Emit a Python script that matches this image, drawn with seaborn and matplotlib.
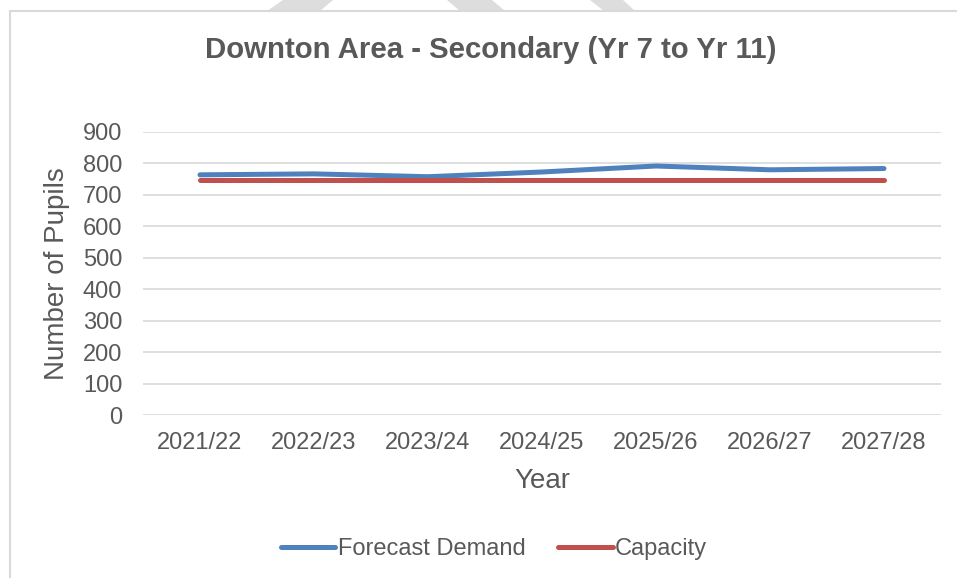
import pandas as pd
import matplotlib.pyplot as plt
import seaborn as sns
from matplotlib.patches import Polygon
from matplotlib.lines import Line2D

# Chart values
years = ["2021/22", "2022/23", "2023/24", "2024/25", "2025/26", "2026/27", "2027/28"]
forecast_demand = [763, 766, 757, 772, 791, 779, 783]
capacity = [745, 745, 745, 745, 745, 745, 745]
y_ticks = [0, 100, 200, 300, 400, 500, 600, 700, 800, 900]

series_names = ["Forecast Demand", "Capacity"]
series_colors = ["#4F81BD", "#C0504D"]
text_grey = "#595959"
grid_grey = "#D9D9D9"

W, H = 957, 578


def build_df():
    df = pd.DataFrame({"Year": years, "Forecast Demand": forecast_demand, "Capacity": capacity})
    df = df.melt(id_vars="Year", var_name="Series", value_name="Pupils")
    return df


df = build_df()

sns.set_theme(style="white")
plt.rcParams["font.family"] = ["Liberation Sans", "DejaVu Sans"]

fig = plt.figure(figsize=(W / 100, H / 100), dpi=100)
ax = fig.add_axes([143 / W, 1 - 415 / H, (941 - 143) / W, (415 - 131.7) / H])

# Background watermark fragments above the chart frame
for pts in [
    [(283, 0), (333, 0), (320, 11), (267, 11)],
    [(447, 0), (492, 0), (505, 11), (460, 11)],
    [(590, 0), (623, 0), (635, 11), (604, 11)],
]:
    fig.patches.append(Polygon([(x / W, 1 - y / H) for x, y in pts], closed=True,
                               transform=fig.transFigure, facecolor="#DDDDDD",
                               edgecolor="none", zorder=0))

# Chart frame (left and top edges visible)
fig.add_artist(Line2D([10 / W, 10 / W], [0, 1 - 11 / H], transform=fig.transFigure,
                      color=grid_grey, lw=1.5))
fig.add_artist(Line2D([10 / W, 1], [1 - 11 / H, 1 - 11 / H], transform=fig.transFigure,
                      color=grid_grey, lw=1.5))

sns.lineplot(data=df, x="Year", y="Pupils", hue="Series", hue_order=series_names,
             palette=series_colors, linewidth=3.6, sort=False, ax=ax, legend=False,
             solid_capstyle="round", zorder=3)

ax.set_xlim(-0.5, len(years) - 0.5)
ax.set_ylim(0, 900)
ax.set_yticks(y_ticks)
ax.set_yticklabels([str(v) for v in y_ticks])
ax.yaxis.grid(True, color=grid_grey, linewidth=1.2)
ax.xaxis.grid(False)
for s in ax.spines.values():
    s.set_visible(False)
ax.tick_params(axis="y", length=0, pad=15, labelsize=17, labelcolor=text_grey)
ax.tick_params(axis="x", length=0, pad=12, labelsize=17, labelcolor=text_grey)

ax.set_xlabel("Year", fontsize=20, color=text_grey)
ax.set_ylabel("Number of Pupils", fontsize=20, color=text_grey)
ax.xaxis.set_label_coords(0.5, -0.188)
ax.yaxis.set_label_coords(-0.0915, 0.5)

fig.text(491 / W, 1 - 50 / H, "Downton Area - Secondary (Yr 7 to Yr 11)",
         ha="center", va="center", fontsize=21.2, fontweight="bold", color=text_grey)

handles = [Line2D([0], [0], color=c, lw=3.6, solid_capstyle="round") for c in series_colors]
leg = fig.legend(handles, series_names, loc="center", bbox_to_anchor=(494 / W, 1 - 549 / H),
                 ncol=2, frameon=False, fontsize=17, handlelength=2.3, handletextpad=0.1,
                 columnspacing=1.4)
for t in leg.get_texts():
    t.set_color(text_grey)

fig.savefig("out.png", dpi=100, facecolor="white")
